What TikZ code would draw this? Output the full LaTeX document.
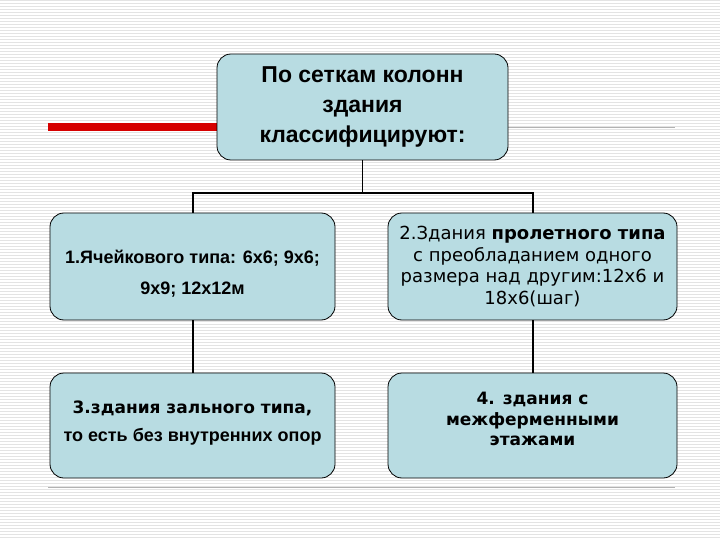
\documentclass[tikz,border=0pt]{standalone}
\usepackage{fontspec}
\setmainfont{Liberation Sans}
\newfontfamily\dvs{DejaVu Sans}
\definecolor{boxfill}{RGB}{184,220,226}
\definecolor{redl}{RGB}{214,0,0}
\begin{document}
\begin{tikzpicture}[x=1pt,y=-1pt,
  bx/.style={draw=black,line width=0.8pt,fill=boxfill,rounded corners=14pt,align=center,inner sep=2pt},
  conn/.style={line width=1.8pt}]
\useasboundingbox (0,0) rectangle (720,540);
\fill[white] (0,0) rectangle (720,540);
\foreach \i in {0,3,...,540} {\draw[gray!22,line width=0.6pt] (0,\i) -- (720,\i);}
\draw[redl,line width=8pt] (48,127) -- (217,127);
\draw[gray!60,line width=0.8pt] (508,127) -- (675,127);
\draw[gray!60,line width=0.8pt] (48,487) -- (675,487);
\node[bx,minimum width=291pt,minimum height=106pt,font=\bfseries\fontsize{23}{30}\selectfont] (top) at (362.5,107) {По сеткам колонн\\здания\\классифицируют:};
\node[bx,minimum width=285pt,minimum height=107pt,font=\bfseries\fontsize{18}{31}\selectfont] (b1) at (192.5,266.5) {\\[-4pt]1.Ячейкового типа: 6х6; 9х6;\\9х9; 12х12м};
\node[bx,minimum width=289pt,minimum height=107pt,font=\dvs\fontsize{18}{21.5}\selectfont] (b2) at (532.5,266.5) {2.Здания \textbf{пролетного типа}\\с преобладанием одного\\размера над другим:12х6 и\\18х6(шаг)};
\node[bx,minimum width=285pt,minimum height=105pt] (b3) at (192.5,425.5) {\\[-6pt]{\dvs\bfseries\fontsize{17}{20}\selectfont 3.здания зального типа,}\\[12pt]{\bfseries\fontsize{18}{20}\selectfont то есть без внутренних опор}};
\node[bx,minimum width=289pt,minimum height=105pt,font=\dvs\bfseries\fontsize{17}{20.5}\selectfont] (b4) at (532.5,425.5) {4. здания с\\межферменными\\этажами\\[-8pt]};
\coordinate (j) at (362.5,193);
\draw[conn] (top.south) -- (j);
\draw[conn] (b1.north -| 193,0) |- (j) -| (b2.north -| 533,0);
\draw[conn] (193,320) -- (193,373);
\draw[conn] (533,320) -- (533,373);
\end{tikzpicture}
\end{document}
